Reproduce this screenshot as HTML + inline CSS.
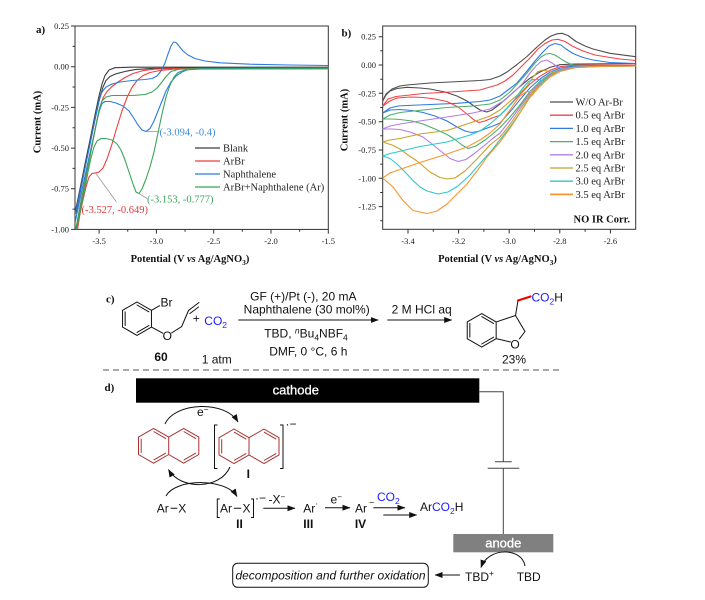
<!DOCTYPE html>
<html><head><meta charset="utf-8"><style>
html,body{margin:0;padding:0;background:#fff;}
svg{display:block;}
.tk{font-family:"Liberation Serif",serif;font-size:8.5px;fill:#222;}
.ax{font-family:"Liberation Serif",serif;font-size:10.5px;font-weight:bold;fill:#111;}
.lg{font-family:"Liberation Serif",serif;font-size:10.5px;fill:#222;}
.pl{font-family:"Liberation Serif",serif;font-size:11px;font-weight:bold;fill:#111;}
.s{font-family:"Liberation Sans",sans-serif;font-size:12px;fill:#111;}
.c{fill:none;stroke-width:1.1;stroke-linejoin:round;stroke-linecap:round;}
</style></head><body>
<svg width="705" height="600" viewBox="0 0 705 600" xmlns="http://www.w3.org/2000/svg">
<defs>
<marker id="ah" markerUnits="userSpaceOnUse" markerWidth="8" markerHeight="6" refX="7.5" refY="3" orient="auto"><path d="M0,0 L8,3 L0,6 z" fill="#111"/></marker>
<clipPath id="ca"><rect x="75" y="26" width="253.3" height="203.4"/></clipPath>
<clipPath id="cb"><rect x="382.7" y="26" width="253" height="203.3"/></clipPath>
</defs>

<!-- ============ PANEL A ============ -->
<text class="pl" x="36" y="33">a)</text>
<g stroke="#333" stroke-width="1" fill="none">
<rect x="75" y="26" width="253.3" height="203.4"/>
<path d="M75,26H71 M75,66.7H71 M75,107.4H71 M75,148.1H71 M75,188.7H71 M75,229.4H71 M75,46.4H72.5 M75,87H72.5 M75,127.7H72.5 M75,168.4H72.5 M75,209.1H72.5"/>
<path d="M99.1,229.4V233.6 M156.4,229.4V233.6 M213.7,229.4V233.6 M271,229.4V233.6 M328.3,229.4V233.6 M127.75,229.4V231.8 M185.05,229.4V231.8 M242.35,229.4V231.8 M299.65,229.4V231.8"/>
</g>
<g class="tk" text-anchor="end">
<text x="69" y="29">0.25</text><text x="69" y="69.7">0.00</text><text x="69" y="110.4">-0.25</text><text x="69" y="151.1">-0.50</text><text x="69" y="191.7">-0.75</text><text x="69" y="232.4">-1.00</text>
</g>
<g class="tk" text-anchor="middle">
<text x="99.1" y="244">-3.5</text><text x="156.4" y="244">-3.0</text><text x="213.7" y="244">-2.5</text><text x="271" y="244">-2.0</text><text x="328.3" y="244">-1.5</text>
</g>
<text class="ax" x="190" y="262" text-anchor="middle">Potential (V <tspan font-style="italic">vs</tspan> Ag/AgNO<tspan font-size="7.5" dy="3">3</tspan><tspan dy="-3">)</tspan></text>
<text class="ax" transform="translate(40.5,122) rotate(-90)" text-anchor="middle">Current (mA)</text>

<g clip-path="url(#ca)">
<polyline class="c" stroke="#3d3d3d" points="75,213 80,189 85,164 90,140 95,115 99,96 102,84 105,75.5 109,70 115,67.7 130,67.2 328.3,67.2"/>
<polyline class="c" stroke="#3d3d3d" points="76,213 81,188 86,163 91,139 96,115 100,97 103,87 106,80.5 110,76.5 116,73.8 125,71.5 135,69.6 150,68.6 180,68.1 328.3,68.1"/>
<polyline class="c" stroke="#ee3d3d" points="328.3,68.3 200,68.3 175,69 160,70.5 150,72.5 143,75.5 137,80.5 132,87.5 127,97.5 122,111 117,127 112,144 107,159 103,168 99,172 96,172.8 92,173.5 89,177 86,187 83,200 80,214 77.5,229.4"/>
<polyline class="c" stroke="#ee3d3d" points="77,226 82,199 87,172 92,146 96,125 100,107 103,98 107,91.5 112,86.5 118,82 125,77.5 133,73.5 143,70.6 155,69.1 175,68.5 328.3,68.5"/>
<polyline class="c" stroke="#2b7be3" points="328.3,67.8 250,68 200,68.5 188,69.5 182,72 176,76 171,82 166,91 162,101 158,111 154,121 150,128.5 146,131.5 142,130 138,125 134,118.5 129,111 123,106 116,103 110,101.5 105,101.5 102,103.5 99,112 95,130 90,153 85,176 80,199 76,218 75,223"/>
<polyline class="c" stroke="#2b7be3" points="75,215 80,192 85,168 90,144 95,119 99,101 102,92 106,87 112,84 120,82 132,80.5 145,79.5 152,78.5 157,76 161,71 165,63 168,54 171,46 173.5,42 176,42.5 179,46 183,51 188,55 195,58.5 205,61 220,62.8 250,64.2 290,65 328.3,65.5"/>
<polyline class="c" stroke="#3aa55a" points="328.3,68.8 250,68.9 200,69.1 185,70 178,72.5 174,77 170,85 166,97 162,114 158,133 154,152 150,167 146,179 142,189 139,193.5 136,192 133,184 129,172 125,160 121,150 117,144 112,140 106,138.5 101,138.5 97,141 94,147 91,158 88,172 85,188 82,203 79,217 76.5,229.4"/>
<polyline class="c" stroke="#3aa55a" points="76,228 80,206 85,181 90,156 95,130 99,110 102,101 106,97 112,95.5 122,95.5 135,95.3 145,94.5 152,92 157,88 162,82 166,76.5 171,71.5 178,69.3 190,68.8 328.3,68.8"/>
</g>
<g stroke="#999" stroke-width="0.8" fill="none">
<path d="M146.5,131.5H159"/><path d="M139,193.5L147,198.5"/><path d="M95.5,173L116.5,202"/>
</g>
<text class="lg" x="159.5" y="135.5" style="fill:#3a8ed8">(-3.094, -0.4)</text>
<text class="lg" x="147" y="202.5" style="fill:#3aa55a">(-3.153, -0.777)</text>
<text class="lg" x="81.5" y="213" style="fill:#e23a3a">(-3.527, -0.649)</text>
<g stroke-width="1.2">
<line x1="195" y1="148" x2="220" y2="148" stroke="#3d3d3d"/>
<line x1="195" y1="161" x2="220" y2="161" stroke="#ee3d3d"/>
<line x1="195" y1="174" x2="220" y2="174" stroke="#2b7be3"/>
<line x1="195" y1="187" x2="220" y2="187" stroke="#3aa55a"/>
</g>
<g class="lg"><text x="223" y="151.5">Blank</text><text x="223" y="164.5">ArBr</text><text x="223" y="177.5">Naphthalene</text><text x="223" y="190.5">ArBr+Naphthalene (Ar)</text></g>

<!-- ============ PANEL B ============ -->
<text class="pl" x="341.5" y="36.5">b)</text>
<g stroke="#333" stroke-width="1" fill="none">
<rect x="382.7" y="26" width="253" height="203.3"/>
<path d="M382.7,36.7H378.7 M382.7,65H378.7 M382.7,93.3H378.7 M382.7,121.7H378.7 M382.7,150H378.7 M382.7,178.3H378.7 M382.7,206.6H378.7 M382.7,50.8H380.2 M382.7,79.2H380.2 M382.7,107.5H380.2 M382.7,135.8H380.2 M382.7,164.1H380.2 M382.7,192.5H380.2 M382.7,220.8H380.2"/>
<path d="M408,229.3V233.5 M458.6,229.3V233.5 M509.2,229.3V233.5 M559.8,229.3V233.5 M610.4,229.3V233.5 M433.3,229.3V231.7 M483.9,229.3V231.7 M534.5,229.3V231.7 M585.1,229.3V231.7"/>
</g>
<g class="tk" text-anchor="end">
<text x="376" y="39.7">0.25</text><text x="376" y="68">0.00</text><text x="376" y="96.3">-0.25</text><text x="376" y="124.7">-0.50</text><text x="376" y="153">-0.75</text><text x="376" y="181.3">-1.00</text><text x="376" y="209.6">-1.25</text>
</g>
<g class="tk" text-anchor="middle">
<text x="408" y="244">-3.4</text><text x="458.6" y="244">-3.2</text><text x="509.2" y="244">-3.0</text><text x="559.8" y="244">-2.8</text><text x="610.4" y="244">-2.6</text>
</g>
<text class="ax" x="497.5" y="262" text-anchor="middle">Potential (V <tspan font-style="italic">vs</tspan> Ag/AgNO<tspan font-size="7.5" dy="3">3</tspan><tspan dy="-3">)</tspan></text>
<text class="ax" transform="translate(347.5,120) rotate(-90)" text-anchor="middle">Current (mA)</text>

<g clip-path="url(#cb)">
<polyline class="c" stroke="#4d4d4d" points="382.7,101 386,95 390,91 397,88.5 407,87.3 420,88 430,89 445,92 457,96 467,101 474,106 480,110 486.7,112 492,110 500,104 510,95.3 520,86.4 530,78.2 540,72 550,67.4 560,64.7 575,64 635.7,63.5"/>
<polyline class="c" stroke="#4d4d4d" points="382.7,101 386,94 392,89 400,86 407,85 430,83 460,81.5 480,80.5 490,79.5 500,76 507,72 517,64.5 527,56.5 537,47 545,40 551,36 557,33.8 562,33.3 568,35.5 576,41.5 585,46 593,49 610,53.3 635.7,56.7"/>
<polyline class="c" stroke="#f2434b" points="382.7,106 390,101 397,98 410,97 423,97.5 435,99 447,101.5 458,107 467,114 474,120 479,122.5 485,121 492,118 500,115.4 510,105.2 520,94.4 530,84 540,76.2 550,70.3 560,66.7 575,65.1 635.7,65"/>
<polyline class="c" stroke="#f2434b" points="382.7,106 388,99 396,96.5 410,95 423,93.5 450,92 480,90 490,87 497,85 505,81 513,75 522,66 530,58 538,49 545,43.5 552,40 558,39.3 565,41.5 573,46.5 583,51 595,55 607,57 620,59 635.7,60.5"/>
<polyline class="c" stroke="#2f7be0" points="382.7,113 390,110 400,109.5 412,110.5 423,112.5 435,116 447,121 457,127 465,131 471.7,132.5 478,131.5 486,128.5 493,126 500,123 510,111.8 520,99.7 530,87.9 540,79 550,72.2 560,68.1 575,65.9 635.7,65.5"/>
<polyline class="c" stroke="#2f7be0" points="382.7,113 390,108 398,106 407,105.5 430,104.5 457,103.3 480,101.5 490,100 500,96 508,90 517,83 527,71 535,61 542,53 549,46 555,43.5 561,45 566,49 573,53.5 583,57.5 593,60 610,62.5 635.7,63.5"/>
<polyline class="c" stroke="#4cae6c" points="382.7,119 392,119 400,119.5 412,121 423,124 435,129 447,134.5 455,139.5 462,145 468,148.5 476,146 485,140 492,134.5 500,127.5 510,117 520,105 530,91.5 540,81.5 550,74 560,69.5 575,67 600,66.3 635.7,66"/>
<polyline class="c" stroke="#4cae6c" points="382.7,119 390,115 400,112.5 423,110 447,107.5 473,106 490,104 500,100 510,92 518,83 527,73 535,63 541,57 546,54 550,53.5 555,55 560,58.3 566,62 573,65 590,66 635.7,66"/>
<polyline class="c" stroke="#b57de3" points="382.7,129 392,129 400,129.5 410,132 423,137 432,144 440,150.5 450,158.5 458,161.5 466,159.5 475,153 485,145 492,139 500,133 510,120.5 520,107 530,93 540,83 550,75 560,70 575,67 600,66.3 635.7,66"/>
<polyline class="c" stroke="#b57de3" points="382.7,129 390,126 400,124 423,120.5 447,117 473,113 490,109 505,100 515,91 523,83 530,73 536,66 541,61.5 546.7,60 552,63 557,66.5 563,68 575,67.5"/>
<polyline class="c" stroke="#caa12a" points="382.7,142 392,145 400,149 408,155 417,161 430,172 440,177.5 447.5,179 455,178 465,171 477,159 490,145 500,137 510,124.5 520,109.5 530,95 540,84 550,76 560,71 575,67.3 600,66.4 635.7,66"/>
<polyline class="c" stroke="#caa12a" points="382.7,142 390,140 400,138.5 420,134 447,130.5 473,122 490,116 500,110 508,103 515,97 521,92 527,86 533,77 538,71.5 543,70 549,71.5 555,72.5 560,71"/>
<polyline class="c" stroke="#2dc7cf" points="382.7,156 390,158.5 397,164 405,172 413,180.5 420,187 427,191 438,194 448,192 458,186 470,175 483,160 492,150 500,139.7 510,127 520,112.5 530,96.5 540,85.2 550,76.6 560,71 575,67.5 600,66.4 635.7,66"/>
<polyline class="c" stroke="#2dc7cf" points="382.7,156 390,153.5 397,152 420,146.5 447,142 470,135 480,131 490,124 500,115 507,108 515,99 522,89 528,82 533,79.5 538,79.5 543,80.5 547,78.5 552,75.5"/>
<polyline class="c" stroke="#f7962f" stroke-width="1.6" points="382.7,178 393,187 403,200.5 413,210.5 427,213.5 437,211 447,204 457,194 467,184 477,171 487,157 500,142 510,128.3 520,113 530,97.5 540,86 550,77 560,71.5 575,67.7 600,66.4 635.7,66"/>
<polyline class="c" stroke="#f7962f" points="382.7,178 390,173 397,170.5 420,162.5 447,154 467,147 480,140 490,133 500,124 507,114 514,104 520,96 526,92 531,91.5 536,89 541,85.5 547,79"/>
</g>
<g stroke-width="1.3">
<line x1="550" y1="102" x2="573" y2="102" stroke="#4d4d4d"/>
<line x1="550" y1="115.2" x2="573" y2="115.2" stroke="#f2434b"/>
<line x1="550" y1="128.4" x2="573" y2="128.4" stroke="#2f7be0"/>
<line x1="550" y1="141.6" x2="573" y2="141.6" stroke="#4cae6c"/>
<line x1="550" y1="154.8" x2="573" y2="154.8" stroke="#b57de3"/>
<line x1="550" y1="168" x2="573" y2="168" stroke="#caa12a"/>
<line x1="550" y1="181.2" x2="573" y2="181.2" stroke="#2dc7cf"/>
<line x1="550" y1="194.4" x2="573" y2="194.4" stroke="#f7962f" stroke-width="1.8"/>
</g>
<g class="lg">
<text x="575.5" y="105.5">W/O Ar-Br</text><text x="575.5" y="118.7">0.5 eq ArBr</text><text x="575.5" y="131.9">1.0 eq ArBr</text><text x="575.5" y="145.1">1.5 eq ArBr</text><text x="575.5" y="158.3">2.0 eq ArBr</text><text x="575.5" y="171.5">2.5 eq ArBr</text><text x="575.5" y="184.7">3.0 eq ArBr</text><text x="575.5" y="197.9">3.5 eq ArBr</text>
</g>
<text class="ax" x="630" y="222.5" text-anchor="end">NO IR Corr.</text>

<!-- ============ PANEL C ============ -->
<text class="pl" x="106" y="302.5">c)</text>
<g stroke="#111" stroke-width="1" fill="none" stroke-linecap="round">
<polygon points="137,302 151.46,310.35 151.46,327.05 137,335.4 122.54,327.05 122.54,310.35"/>
<path d="M125.14,311.85V325.55 M137,305L148.86,311.85 M148.86,325.55L137,332.4"/>
<path d="M151.46,310.35L159.5,305.7"/>
<path d="M151.46,327.05L162.8,333.2"/>
<path d="M171.5,333L181.7,326.5L188.5,310.5L199,302.5 M189.8,313.6L198.5,307"/>
</g>
<text class="s" x="160.5" y="306.5">Br</text>
<text class="s" x="167.3" y="339.8" text-anchor="middle">O</text>
<text class="s" x="196.3" y="322.3" text-anchor="middle" font-size="11">+</text>
<text class="s" x="204.3" y="325" style="fill:#1a1aff">CO<tspan font-size="8.5" dy="3">2</tspan></text>
<text class="s" x="161" y="361" text-anchor="middle" font-weight="bold">60</text>
<text class="s" x="201.7" y="363.3">1 atm</text>
<line x1="238.3" y1="320" x2="378.3" y2="320" stroke="#111" stroke-width="1" marker-end="url(#ah)"/>
<line x1="387.3" y1="320" x2="451.7" y2="320" stroke="#111" stroke-width="1" marker-end="url(#ah)"/>
<g class="s" text-anchor="middle">
<text x="303.3" y="300.3">GF (+)/Pt (-), 20 mA</text>
<text x="306.7" y="313.6">Naphthalene (30 mol%)</text>
<text x="306" y="337.6">TBD, <tspan font-style="italic" font-size="8.5" dy="-4">n</tspan><tspan dy="4">Bu</tspan><tspan font-size="8.5" dy="3">4</tspan><tspan dy="-3">NBF</tspan><tspan font-size="8.5" dy="3">4</tspan></text>
<text x="308.3" y="355.3">DMF, 0 °C, 6 h</text>
<text x="421.7" y="313.6">2 M HCl aq</text>
<text x="514" y="363.6">23%</text>
</g>
<g stroke="#111" stroke-width="1" fill="none" stroke-linecap="round">
<polygon points="481.7,313.6 496.16,321.95 496.16,338.65 481.7,347 467.24,338.65 467.24,321.95"/>
<path d="M469.84,323.45V337.15 M481.7,316.6L493.56,323.45 M493.56,337.15L481.7,344"/>
<path d="M496.16,321.95L515.5,315.5L525,331.5L519.5,338.8 M510.5,342L496.16,338.65 M515.5,315.5L518,300.5"/>
</g>
<path d="M518,300.5L530.5,296.5" stroke="#e00" stroke-width="2.2" stroke-linecap="round"/>
<text class="s" x="515" y="348.3" text-anchor="middle">O</text>
<text class="s" x="531.5" y="301.3"><tspan style="fill:#1a1aff">CO</tspan><tspan style="fill:#1a1aff" font-size="8.5" dy="3">2</tspan><tspan dy="-3">H</tspan></text>
<line x1="103" y1="370" x2="563" y2="370" stroke="#555" stroke-width="1" stroke-dasharray="6,4"/>

<!-- ============ PANEL D ============ -->
<text class="pl" x="104.5" y="391">d)</text>
<rect x="136" y="378.3" width="343.3" height="24.4" fill="#000"/>
<text x="295.8" y="394.5" text-anchor="middle" font-family="Liberation Sans, sans-serif" font-size="13" fill="#fff" stroke="#fff" stroke-width="0.3">cathode</text>
<rect x="453.3" y="534" width="100" height="18.3" fill="#808080"/>
<text x="503.3" y="547.3" text-anchor="middle" font-family="Liberation Sans, sans-serif" font-size="13" fill="#fff" stroke="#fff" stroke-width="0.3">anode</text>
<g stroke="#444" stroke-width="1" fill="none">
<path d="M479.3,391.7H503.3V461.7 M495,461.7H511.7 M487.7,468.3H519.3 M503.3,468.3V534"/>
</g>
<g stroke="#a83232" stroke-width="1" fill="none" stroke-linejoin="round">
<path d="M138.5,437.1L153.6,428.4L168.7,437.1L183.7,428.4L198.8,437.1L198.8,454.5L183.7,463.2L168.7,454.5L153.6,463.2L138.5,454.5Z M168.7,437.1V454.5"/>
<path d="M141.2,438.7V452.9 M153.6,431.5L166,438.7 M166,452.9L153.6,460.1 M183.7,431.5L196.1,438.7 M196.1,452.9L183.7,460.1"/>
<path d="M219,437.65L234,429L249,437.65L264,429L279,437.65L279,454.95L264,463.6L249,454.95L234,463.6L219,454.95Z M249,437.65V454.95"/>
<path d="M221.7,439.2V453.4 M234,432.1L246.3,439.2 M246.3,453.4L234,460.5 M264,432.1L276.3,439.2 M276.3,453.4L264,460.5"/>
</g>
<g stroke="#111" stroke-width="1" fill="none">
<path d="M217.5,425H214.5V468.5H217.5 M280,425H283V468.5H280"/>
<path d="M165,424C175,402 225,400 238,422" marker-end="url(#ah)"/>
<path d="M230,467C220,490 180,490 168.5,469.5" marker-end="url(#ah)"/>
<path d="M166,496C176,478 226,478 237,496.5" marker-end="url(#ah)"/>
<path d="M525,566C522,547 488,547 481,567.5" marker-end="url(#ah)"/>
<line x1="263.3" y1="508.3" x2="295" y2="508.3" marker-end="url(#ah)"/>
<line x1="325" y1="507.7" x2="350" y2="507.7" marker-end="url(#ah)"/>
<line x1="373.3" y1="507.7" x2="405" y2="507.7" marker-end="url(#ah)"/>
<line x1="383.3" y1="515" x2="416.7" y2="515" marker-end="url(#ah)"/>
<line x1="460" y1="575" x2="435" y2="575" marker-end="url(#ah)"/>
<path d="M170.7,508.3H177.3 M233.8,508.3H241.2"/>
<path d="M219.8,499H217.3V517.5H219.8 M251,499H253.5V517.5H251"/>
<rect x="232.7" y="563.3" width="195.6" height="24" rx="5"/>
</g>
<text class="s" x="285.5" y="428" font-size="9">·−</text>
<text class="s" x="197" y="416">e<tspan font-size="8" dy="-4">−</tspan></text>
<text class="s" x="248.3" y="478" text-anchor="middle" font-weight="bold">I</text>
<text class="s" x="156.7" y="512.6">Ar</text>
<text class="s" x="178.3" y="512.6">X</text>
<text class="s" x="220" y="512.6">Ar</text>
<text class="s" x="242.5" y="512.6">X</text>
<text class="s" x="255" y="502" font-size="9">·−</text>
<text class="s" x="239.5" y="528" text-anchor="middle" font-weight="bold">II</text>
<text class="s" x="268.5" y="503.5">-X<tspan font-size="8" dy="-4">−</tspan></text>
<text class="s" x="303.3" y="512.6">Ar<tspan font-size="9" dy="-6">·</tspan></text>
<text class="s" x="308.3" y="528" text-anchor="middle" font-weight="bold">III</text>
<text class="s" x="330.5" y="503.5">e<tspan font-size="8" dy="-4">−</tspan></text>
<text class="s" x="355" y="512.6">Ar<tspan font-size="9" dx="2" dy="-7">−</tspan></text>
<text class="s" x="360.5" y="528" text-anchor="middle" font-weight="bold">IV</text>
<text class="s" x="377" y="501" style="fill:#1a1aff">CO<tspan font-size="8.5" dy="3">2</tspan></text>
<text class="s" x="420" y="511">Ar<tspan style="fill:#1a1aff">CO</tspan><tspan style="fill:#1a1aff" font-size="8.5" dy="3">2</tspan><tspan dy="-3">H</tspan></text>
<text class="s" x="330.5" y="579.3" text-anchor="middle" font-style="italic">decomposition and further oxidation</text>
<text class="s" x="465" y="581">TBD<tspan font-size="8.5" dy="-5">+</tspan></text>
<text class="s" x="516.7" y="581">TBD</text>
</svg>
</body></html>
